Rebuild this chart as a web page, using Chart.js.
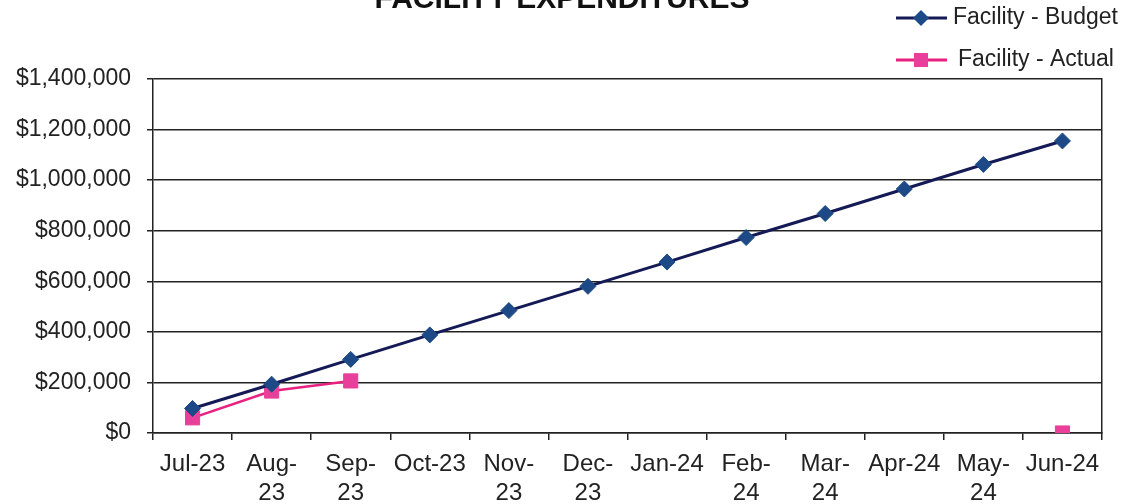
<!DOCTYPE html>
<html>
<head>
<meta charset="utf-8">
<script src="https://cdn.jsdelivr.net/npm/chart.js@4/dist/chart.umd.min.js"></script>
<style>
  html, body { margin: 0; padding: 0; background: #fff; }
  #wrap { position: relative; width: 1130px; height: 504px; }
</style>
</head>
<body>
<div id="wrap"><canvas id="facilityChart" width="1130" height="504"></canvas></div>
<script>
// Chart data
const months = ['Jul-23', ['Aug-', '23'], ['Sep-', '23'], 'Oct-23', ['Nov-', '23'], ['Dec-', '23'],
  'Jan-24', ['Feb-', '24'], ['Mar-', '24'], 'Apr-24', ['May-', '24'], 'Jun-24'];
const budget = [97000, 193000, 291000, 388000, 484000, 580000, 676000, 773000, 868000, 965000, 1062000, 1155000];
const actual = [60000, 166000, 206000, null, null, null, null, null, null, null, null, 0];
const yTicks = [0, 200000, 400000, 600000, 800000, 1000000, 1200000, 1400000];

const titleText = 'FACILITY EXPENDITURES';
const budgetName = 'Facility - Budget';
const actualName = 'Facility - Actual';

const FONT = '"Liberation Sans", Arial, sans-serif';

// Title (cut off at the top) and legend drawn on the canvas
const decorPlugin = {
  id: 'decor',
  afterDraw(chart) {
    const ctx = chart.ctx;
    ctx.save();
    ctx.fillStyle = '#111';
    ctx.font = 'bold 30px ' + FONT;
    ctx.textAlign = 'center';
    ctx.textBaseline = 'alphabetic';
    ctx.fillText(titleText, 562, 8);

    // legend entries
    const items = [
      { name: budgetName, y: 18, line: '#141a55', fill: '#1d4a86', shape: 'diamond', tx: 953 },
      { name: actualName, y: 60, line: '#e6217f', fill: '#e8409a', shape: 'square', tx: 958 }
    ];
    items.forEach(it => {
      ctx.strokeStyle = it.line;
      ctx.lineWidth = 3;
      ctx.beginPath();
      ctx.moveTo(896, it.y);
      ctx.lineTo(947, it.y);
      ctx.stroke();
      ctx.fillStyle = it.fill;
      ctx.beginPath();
      if (it.shape === 'diamond') {
        ctx.moveTo(921, it.y - 8);
        ctx.lineTo(929, it.y);
        ctx.lineTo(921, it.y + 8);
        ctx.lineTo(913, it.y);
      } else {
        ctx.rect(914, it.y - 7, 14, 14);
      }
      ctx.closePath();
      ctx.fill();
      ctx.fillStyle = '#222';
      ctx.font = '23px ' + FONT;
      ctx.textAlign = 'left';
      ctx.textBaseline = 'middle';
      ctx.fillText(it.name, it.tx, it.y);
    });
    ctx.restore();
  }
};

new Chart('facilityChart', {
  type: 'line',
  data: {
    labels: months,
    datasets: [
      {
        label: budgetName,
        data: budget,
        borderColor: '#141a55',
        borderWidth: 3,
        pointStyle: 'rectRot',
        pointRadius: 8,
        pointBackgroundColor: '#1d4a86',
        pointBorderColor: '#1d4a86',
        pointBorderWidth: 1,
        tension: 0
      },
      {
        label: actualName,
        data: actual,
        borderColor: '#e6217f',
        borderWidth: 2.5,
        pointStyle: 'rect',
        pointRadius: 10,
        pointBackgroundColor: '#e8409a',
        pointBorderColor: '#e8409a',
        pointBorderWidth: 1,
        spanGaps: false,
        tension: 0
      }
    ]
  },
  options: {
    responsive: false,
    animation: false,
    layout: { padding: { top: 79, right: 28, left: 0, bottom: 0 } },
    plugins: {
      legend: { display: false },
      title: { display: false },
      tooltip: { enabled: false }
    },
    scales: {
      x: {
        offset: true,
        grid: { offset: true, drawOnChartArea: false, color: '#222', lineWidth: 1.5, tickLength: 7 },
        border: { display: true, color: '#222', width: 1.5 },
        ticks: {
          color: '#222',
          font: { family: FONT, size: 24, lineHeight: 1.2 },
          maxRotation: 0,
          autoSkip: false,
          padding: 10
        },
        afterFit(scale) { scale.height = 71; }
      },
      y: {
        min: 0,
        max: 1400000,
        afterBuildTicks(scale) { scale.ticks = yTicks.map(v => ({ value: v })); },
        grid: { color: '#222', lineWidth: 1.5, tickLength: 6 },
        border: { display: true, color: '#222', width: 1.5 },
        ticks: {
          color: '#222',
          font: { family: FONT, size: 23 },
          padding: 16,
          callback: v => '$' + Number(v).toLocaleString('en-US')
        },
        afterFit(scale) { scale.width = 153; }
      },
      yRight: {
        position: 'right',
        min: 0,
        max: 1400000,
        grid: { drawOnChartArea: false, drawTicks: false },
        border: { display: true, color: '#222', width: 1.5 },
        ticks: { display: false },
        afterFit(scale) { scale.width = 0; }
      }
    }
  },
  plugins: [decorPlugin]
});
</script>
</body>
</html>
